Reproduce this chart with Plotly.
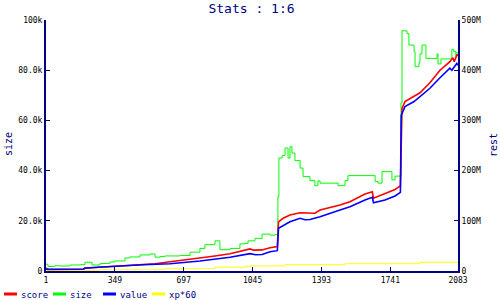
import plotly.graph_objects as go

# ---- data ----
x_ticks = [1, 349, 697, 1045, 1393, 1741, 2083]
y_left_ticks = [0, 20000, 40000, 60000, 80000, 100000]
y_left_text = ["0", "20.0k", "40.0k", "60.0k", "80.0k", "100k"]
y_right_ticks = [0, 100, 200, 300, 400, 500]
y_right_text = ["0", "100M", "200M", "300M", "400M", "500M"]

size_x = [1, 11, 46, 72, 122, 173, 198, 233, 274, 324, 350, 400, 425, 476, 527, 552, 577, 602,
          678, 729, 779, 804, 855, 880, 931, 981, 1007, 1022, 1057, 1093, 1133, 1158, 1173, 1178,
          1194, 1209, 1224, 1234, 1244, 1259, 1285, 1300, 1335, 1360, 1375, 1386, 1461, 1477,
          1512, 1527, 1648, 1664, 1679, 1699, 1739, 1749, 1765, 1795, 1800, 1825, 1835, 1861,
          1866, 1886, 1891, 1901, 1921, 1977, 1982, 1997, 2042, 2052, 2062, 2072, 2077, 2083]
size_v = [2700, 1800, 2100, 2000, 2400, 2500, 3500, 2400, 3000, 3600, 4000, 5200, 5600, 6400,
          6800, 5500, 5800, 6000, 6200, 7500, 9000, 10500, 12000, 8500, 9000, 10800, 11000, 12000,
          13000, 14700, 14300, 14500, 29600, 45000, 46000, 49000, 45000, 49500, 47000, 44000,
          41000, 37600, 36000, 34000, 35900, 35000, 35000, 34000, 36000, 38000, 38000, 35600,
          35000, 39600, 39600, 36300, 37800, 67000, 95700, 94600, 90000, 87400, 81400, 83000,
          86500, 90000, 84700, 86500, 82500, 84500, 84500, 88300, 87400, 85400, 87000, 87000]

score_x = [1, 11, 190, 198, 289, 360, 476, 552, 628, 703, 779, 855, 931, 981, 1032, 1050, 1093,
           1133, 1170, 1176, 1199, 1234, 1285, 1360, 1386, 1487, 1537, 1613, 1650, 1656, 1714,
           1765, 1792, 1796, 1800, 1815, 1855, 1891, 1941, 1992, 2042, 2057, 2064, 2077, 2083]
score_v = [6, 3, 3.5, 5.5, 8, 10, 12.5, 14.5, 18.5, 22, 25, 30, 34.5, 39, 44, 41.5, 42, 46.5,
           48.5, 98, 105, 111.5, 116, 115, 121.5, 131.5, 138, 153.5, 158, 145, 155, 162.5, 169.5,
           311, 324, 337.5, 347.5, 355, 375, 400, 417, 425, 417, 430, 430]

value_x = [1, 190, 198, 350, 491, 628, 779, 931, 1032, 1060, 1093, 1133, 1170, 1176, 1209, 1234,
           1285, 1310, 1335, 1386, 1487, 1537, 1613, 1650, 1656, 1714, 1765, 1792, 1796, 1815,
           1861, 1891, 1941, 1992, 2042, 2052, 2067, 2077, 2083]
value_v = [3.5, 4, 6, 10, 12.5, 14.5, 20, 27.5, 34.5, 32.5, 33, 38.5, 40.5, 85, 91.5, 98, 105,
           102, 102.5, 108, 121.5, 128, 141.5, 147, 136, 141.5, 149.5, 156.5, 310, 327.5, 337.5,
           347.5, 364, 385, 404, 400, 407, 413.5, 410]

xp_x = [1, 274, 602, 855, 1007, 1032, 1209, 1512, 1891, 2083]
xp_v = [1.5, 2.5, 4.5, 7.5, 9.5, 10, 12.5, 14.5, 17.5, 17.5]

series_names = ["score", "size", "value", "xp*60"]
series_colors = ["#ff0000", "#00ff00", "#0000ff", "#ffff00"]

# ---- layout helpers ----
W, H = 500, 300
L, R, T, B = 46, 458, 20, 271
NAVY = "#000080"
FONT = "DejaVu Sans Mono"


def px(xp):
    return (xp - L) / (R - L)


def py(yp):
    return (B - yp) / (B - T)


fig = go.Figure()
fig.add_trace(go.Scatter(x=xp_x, y=xp_v, yaxis="y2", mode="lines", line=dict(color=series_colors[3], width=1, shape="hv"), name="xp*60"))
fig.add_trace(go.Scatter(x=size_x, y=size_v, yaxis="y", mode="lines", line=dict(color=series_colors[1], width=1, shape="hv"), name="size"))
fig.add_trace(go.Scatter(x=score_x, y=score_v, yaxis="y2", mode="lines", line=dict(color=series_colors[0], width=1.6), name="score"))
fig.add_trace(go.Scatter(x=value_x, y=value_v, yaxis="y2", mode="lines", line=dict(color=series_colors[2], width=1.6), name="value"))

shapes = []
annotations = []
leg_x = [4, 53, 103, 152]
for i, nm in enumerate(series_names):
    x0 = leg_x[i]
    shapes.append(dict(type="line", xref="paper", yref="paper", x0=px(x0), x1=px(x0 + 13),
                       y0=py(294), y1=py(294), line=dict(color=series_colors[i], width=3)))
    annotations.append(dict(text=nm, xref="paper", yref="paper", x=px(x0 + 15), y=py(294.5),
                            xanchor="left", yanchor="middle", showarrow=False,
                            font=dict(family=FONT, size=9, color=NAVY)))

annotations.append(dict(text="size", xref="paper", yref="paper", x=px(8), y=py(144), textangle=-90,
                        xanchor="center", yanchor="middle", showarrow=False,
                        font=dict(family=FONT, size=10, color=NAVY)))
annotations.append(dict(text="rest", xref="paper", yref="paper", x=px(493), y=py(145), textangle=-90,
                        xanchor="center", yanchor="middle", showarrow=False,
                        font=dict(family=FONT, size=10, color=NAVY)))

axis_common = dict(showgrid=False, zeroline=False, showline=True, linecolor=NAVY, linewidth=2,
                   ticks="inside", ticklen=4, tickcolor=NAVY, tickwidth=1,
                   tickfont=dict(family=FONT, size=8, color="black"))

fig.update_layout(
    width=W, height=H,
    margin=dict(l=L, r=W - R, t=T, b=H - B, pad=0),
    paper_bgcolor="white", plot_bgcolor="white",
    showlegend=False,
    title=dict(text="Stats : 1:6", x=0.503, xanchor="center", y=1 - 8 / H, yanchor="middle",
               font=dict(family=FONT, size=13, color=NAVY)),
    xaxis=dict(range=[1, 2083], tickvals=x_ticks, ticktext=[str(v) for v in x_ticks], **axis_common),
    yaxis=dict(range=[0, 100000], tickvals=y_left_ticks, ticktext=y_left_text, **axis_common),
    yaxis2=dict(range=[0, 500], tickvals=y_right_ticks, ticktext=y_right_text, overlaying="y",
                side="right", **axis_common),
    shapes=shapes, annotations=annotations,
)

fig.write_html("out.html")
